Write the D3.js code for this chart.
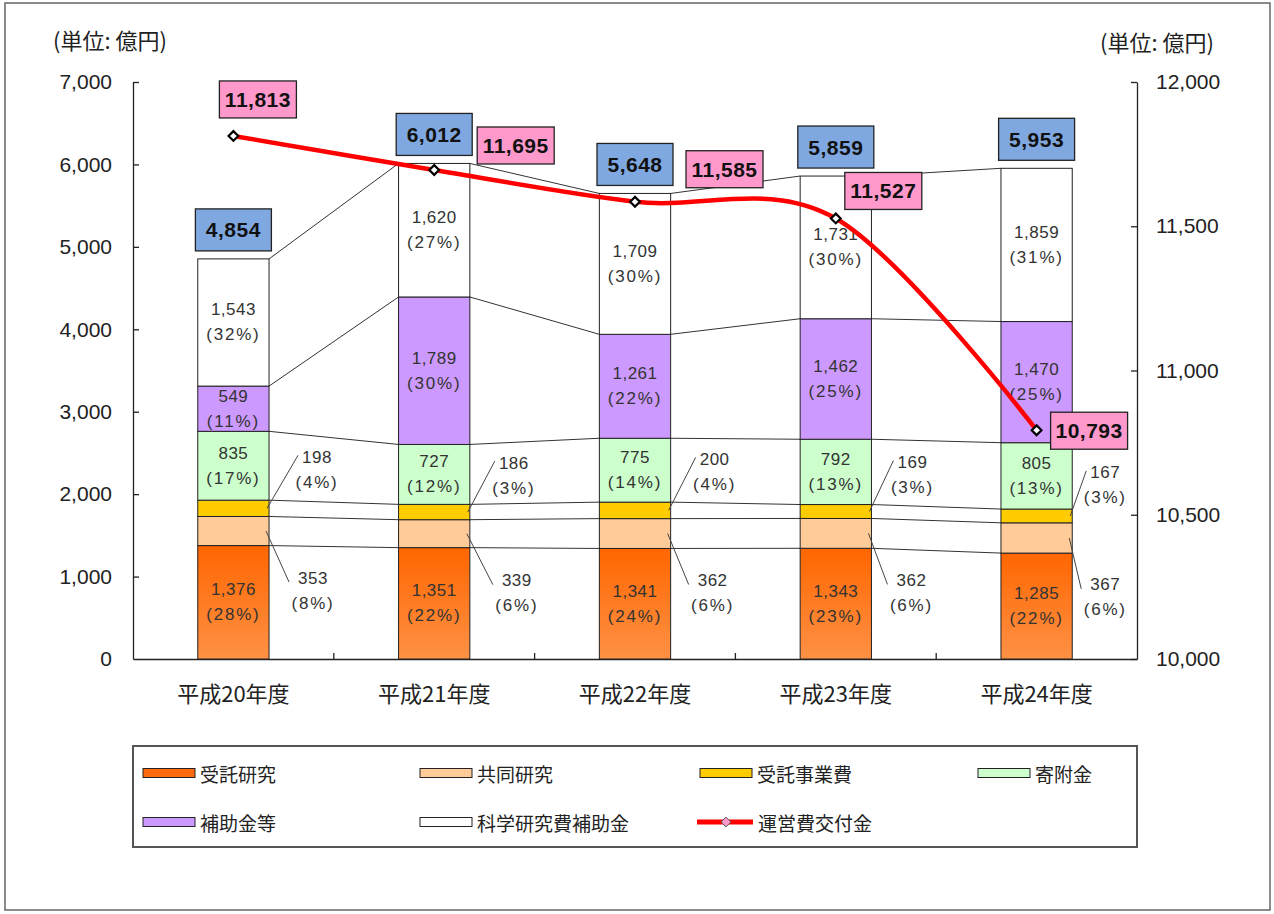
<!DOCTYPE html>
<html>
<head>
<meta charset="utf-8">
<script src="https://cdn.jsdelivr.net/npm/d3@7"></script>
<style>
  body { margin: 0; background: #fff; }
  svg { display: block; }
</style>
</head>
<body>
<div id="chart"></div>
<script>
// 大学の外部資金等の推移（単位: 億円）
var categories = ['平成20年度', '平成21年度', '平成22年度', '平成23年度', '平成24年度'];

var jutakuKenkyu = [1376, 1351, 1341, 1343, 1285];   // 受託研究
var kyodoKenkyu  = [353, 339, 362, 362, 367];         // 共同研究
var jutakuJigyo  = [198, 186, 200, 169, 167];         // 受託事業費
var kifukin      = [835, 727, 775, 792, 805];         // 寄附金
var hojokin      = [549, 1789, 1261, 1462, 1470];     // 補助金等
var kakenhi      = [1543, 1620, 1709, 1731, 1859];    // 科学研究費補助金
var totals       = [4854, 6012, 5648, 5859, 5953];    // 合計
var unei         = [11813, 11695, 11585, 11527, 10793]; // 運営費交付金

var jutakuKenkyuPct = [28, 22, 24, 23, 22];
var kyodoKenkyuPct  = [8, 6, 6, 6, 6];
var jutakuJigyoPct  = [4, 3, 4, 3, 3];
var kifukinPct      = [17, 12, 14, 13, 13];
var hojokinPct      = [11, 30, 22, 25, 25];
var kakenhiPct      = [32, 27, 30, 30, 31];

var leftTicks  = [0, 1000, 2000, 3000, 4000, 5000, 6000, 7000];
var rightTicks = [10000, 10500, 11000, 11500, 12000];

var seriesNames = ['受託研究', '共同研究', '受託事業費', '寄附金', '補助金等', '科学研究費補助金'];
var seriesVals  = [jutakuKenkyu, kyodoKenkyu, jutakuJigyo, kifukin, hojokin, kakenhi];
var seriesPct   = [jutakuKenkyuPct, kyodoKenkyuPct, jutakuJigyoPct, kifukinPct, hojokinPct, kakenhiPct];
var seriesFill  = ['url(#orangeGrad)', '#ffcc99', '#ffcc00', '#ccffcc', '#cc99ff', '#ffffff'];
var legendFill  = ['#ff6a10', '#ffcc99', '#ffcc00', '#ccffcc', '#cc99ff', '#ffffff'];
var lineName = '運営費交付金';

// layout
var W = 1274, H = 914;
var plotL = 133, plotR = 1137, plotT = 82, plotB = 659;
var JP = '"Noto Sans CJK JP", sans-serif';
var NUM = '"Liberation Sans", Arial, sans-serif';

// label nudges (manual placement, like the original)
var kyodoDx = [44, 47, 42, 40, 33];
var jigyoDx = [48, 44, 44, 41, 33];
var jigyoDy = [-51, -49, -51, -49, -43];
var pinkDx = [-14, 43, 51, 9, 14];
var pinkDy = [-55, -43, -51, -46, -18];

var fmt = d3.format(',');

var table = categories.map(function (c, i) {
  var row = { cat: c };
  seriesNames.forEach(function (n, k) { row[n] = seriesVals[k][i]; });
  return row;
});
var stacked = d3.stack().keys(seriesNames)(table);

var svg = d3.select('#chart').append('svg')
  .attr('width', W)
  .attr('height', H);

var defs = svg.append('defs');
var grad = defs.append('linearGradient').attr('id', 'orangeGrad')
  .attr('x1', 0).attr('y1', 0).attr('x2', 0).attr('y2', 1);
grad.append('stop').attr('offset', '0%').attr('stop-color', '#ff6600');
grad.append('stop').attr('offset', '100%').attr('stop-color', '#ff9145');

// frame
svg.append('rect')
  .attr('x', 5).attr('y', 3).attr('width', 1265).attr('height', 907)
  .attr('fill', '#fff').attr('stroke', '#666').attr('stroke-width', 1.5);

var x = d3.scaleBand().domain(categories).range([plotL, plotR]);
var bw = x.bandwidth() * 0.355;
function cx(c) { return x(c) + x.bandwidth() / 2; }
var y = d3.scaleLinear().domain([0, 7000]).range([plotB, plotT]);
var y2 = d3.scaleLinear().domain([10000, 12000]).range([plotB, plotT]);

// axes
var axL = svg.append('g').attr('transform', 'translate(' + plotL + ',0)')
  .call(d3.axisLeft(y).tickValues(leftTicks).tickFormat(fmt).tickSize(-6).tickSizeOuter(0).tickPadding(21));
var axR = svg.append('g').attr('transform', 'translate(' + plotR + ',0)')
  .call(d3.axisRight(y2).tickValues(rightTicks).tickFormat(fmt).tickSize(-6).tickSizeOuter(0).tickPadding(19));
[axL, axR].forEach(function (a) {
  a.select('.domain').attr('stroke', '#222').attr('stroke-width', 1.3);
  a.selectAll('.tick line').attr('stroke', '#222').attr('stroke-width', 1.3);
  a.selectAll('.tick text').attr('font-family', NUM).attr('font-size', 21).attr('fill', '#222');
});
axL.selectAll('.tick').filter(function (d) { return d === 0; }).select('line').remove();

var axB = svg.append('g').attr('transform', 'translate(0,' + plotB + ')')
  .call(d3.axisBottom(x).tickSize(0).tickPadding(27));
axB.select('.domain').attr('stroke', '#222').attr('stroke-width', 1.3);
axB.selectAll('.tick text').attr('font-family', JP).attr('font-size', 22).attr('fill', '#222');
axB.selectAll('.sep').data(categories.slice(1)).enter().append('line')
  .attr('x1', function (d) { return x(d); }).attr('x2', function (d) { return x(d); })
  .attr('y1', 0).attr('y2', -6).attr('stroke', '#222').attr('stroke-width', 1.3);

// unit labels
svg.append('text').attr('x', 53).attr('y', 39).attr('dominant-baseline', 'central')
  .attr('font-family', JP).attr('font-size', 22).attr('fill', '#222').text('(単位: 億円)');
svg.append('text').attr('x', 1100).attr('y', 41).attr('dominant-baseline', 'central')
  .attr('font-family', JP).attr('font-size', 22).attr('fill', '#222').text('(単位: 億円)');

// series lines between bars
var sl = svg.append('g');
stacked.forEach(function (layer) {
  for (var i = 0; i < categories.length - 1; i++) {
    sl.append('line')
      .attr('x1', cx(categories[i]) + bw / 2).attr('y1', y(layer[i][1]))
      .attr('x2', cx(categories[i + 1]) - bw / 2).attr('y2', y(layer[i + 1][1]))
      .attr('stroke', '#333').attr('stroke-width', 1);
  }
});

// bars
var bars = svg.append('g');
stacked.forEach(function (layer, k) {
  bars.selectAll(null).data(layer).enter().append('rect')
    .attr('x', function (d) { return cx(d.data.cat) - bw / 2; })
    .attr('y', function (d) { return y(d[1]); })
    .attr('width', bw)
    .attr('height', function (d) { return y(d[0]) - y(d[1]); })
    .attr('fill', seriesFill[k])
    .attr('stroke', '#222').attr('stroke-width', 1);
});

// segment labels
var lab = svg.append('g').attr('font-family', NUM).attr('font-size', 17).attr('fill', '#333')
  .attr('text-anchor', 'middle');
function twoLines(px, py, val, pct) {
  lab.append('text').attr('x', px).attr('y', py).attr('dominant-baseline', 'central')
    .attr('letter-spacing', 0.5).text(fmt(val));
  lab.append('text').attr('x', px).attr('y', py + 25).attr('dominant-baseline', 'central')
    .attr('letter-spacing', 1.8).text('(' + pct + '%)');
}
stacked.forEach(function (layer, k) {
  layer.forEach(function (d, i) {
    var c = cx(d.data.cat);
    var mid = (y(d[0]) + y(d[1])) / 2;
    var right = c + bw / 2;
    if (k === 1) {
      var lx = right + kyodoDx[i], ly = mid + 47;
      lab.append('line').attr('x1', right - 3).attr('y1', mid).attr('x2', lx - 24).attr('y2', ly + 4)
        .attr('stroke', '#444').attr('stroke-width', 1);
      twoLines(lx, ly, seriesVals[k][i], seriesPct[k][i]);
    } else if (k === 2) {
      var jx = right + jigyoDx[i], jy = mid + jigyoDy[i];
      lab.append('line').attr('x1', right - 2).attr('y1', mid).attr('x2', jx - 19).attr('y2', jy - 2)
        .attr('stroke', '#444').attr('stroke-width', 1);
      twoLines(jx, jy, seriesVals[k][i], seriesPct[k][i]);
    } else {
      twoLines(c, mid - 12.5, seriesVals[k][i], seriesPct[k][i]);
    }
  });
});

// 運営費交付金 line
var pts = categories.map(function (c, i) { return [cx(c), y2(unei[i])]; });
svg.append('path')
  .attr('d', d3.line().curve(d3.curveCardinal)(pts))
  .attr('fill', 'none').attr('stroke', '#ff0000').attr('stroke-width', 4.5);
var diamond = d3.symbol().type(d3.symbolDiamond2).size(60);
svg.selectAll('.mk').data(pts).enter().append('path')
  .attr('d', diamond())
  .attr('transform', function (p) { return 'translate(' + p[0] + ',' + p[1] + ')'; })
  .attr('fill', '#fff').attr('stroke', '#000').attr('stroke-width', 2.2);

// total boxes
var tb = svg.append('g');
categories.forEach(function (c, i) {
  var top = y(totals[i]) - 8 - 42;
  tb.append('rect').attr('x', cx(c) - 38).attr('y', top).attr('width', 76).attr('height', 42)
    .attr('fill', '#80a8e0').attr('stroke', '#222').attr('stroke-width', 1.3);
  tb.append('text').attr('x', cx(c)).attr('y', top + 21).attr('text-anchor', 'middle')
    .attr('dominant-baseline', 'central').attr('font-family', NUM).attr('font-weight', 'bold')
    .attr('font-size', 21).attr('letter-spacing', 0.5).attr('fill', '#111').text(fmt(totals[i]));
});

// 運営費交付金 boxes
pts.forEach(function (p, i) {
  var bx = p[0] + pinkDx[i], by = p[1] + pinkDy[i];
  tb.append('rect').attr('x', bx).attr('y', by).attr('width', 77).attr('height', 37)
    .attr('fill', '#ff99cc').attr('stroke', '#222').attr('stroke-width', 1.3);
  tb.append('text').attr('x', bx + 38.5).attr('y', by + 18.5).attr('text-anchor', 'middle')
    .attr('dominant-baseline', 'central').attr('font-family', NUM).attr('font-weight', 'bold')
    .attr('font-size', 21).attr('letter-spacing', 0.5).attr('fill', '#111').text(fmt(unei[i]));
});

// legend
var lg = svg.append('g');
lg.append('rect').attr('x', plotL).attr('y', 746).attr('width', plotR - plotL).attr('height', 101)
  .attr('fill', '#fff').attr('stroke', '#555').attr('stroke-width', 2);
var colX = [143, 420, 700, 978], rowY = [773, 822];
seriesNames.forEach(function (n, k) {
  var gx = colX[k % 4], gy = rowY[Math.floor(k / 4)];
  lg.append('rect').attr('x', gx).attr('y', gy - 4.5).attr('width', 52).attr('height', 9)
    .attr('fill', legendFill[k]).attr('stroke', '#222').attr('stroke-width', 1);
  lg.append('text').attr('x', gx + 57).attr('y', gy).attr('dominant-baseline', 'central')
    .attr('font-family', JP).attr('font-size', 19).attr('fill', '#222').text(n);
});
var lx0 = colX[2] - 3, ly0 = rowY[1];
lg.append('line').attr('x1', lx0).attr('x2', lx0 + 56).attr('y1', ly0).attr('y2', ly0)
  .attr('stroke', '#ff0000').attr('stroke-width', 5);
lg.append('path').attr('d', diamond()).attr('transform', 'translate(' + (lx0 + 29) + ',' + ly0 + ')')
  .attr('fill', '#ff99cc').attr('stroke', '#555').attr('stroke-width', 1);
lg.append('text').attr('x', lx0 + 61).attr('y', ly0).attr('dominant-baseline', 'central')
  .attr('font-family', JP).attr('font-size', 19).attr('fill', '#222').text(lineName);
</script>
</body>
</html>
